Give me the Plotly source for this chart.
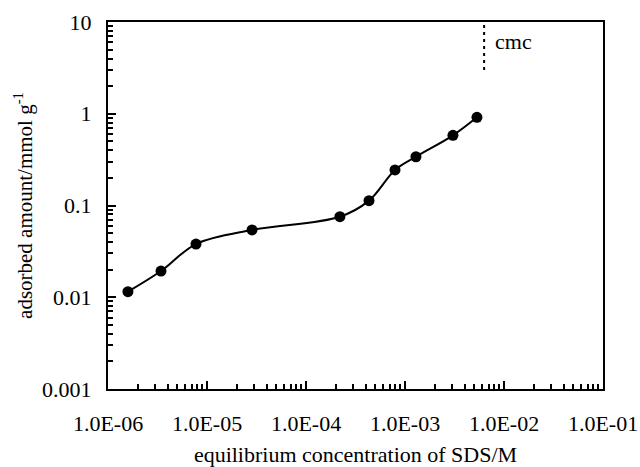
import math
import plotly.graph_objects as go

conc = [1.59e-6, 3.43e-6, 7.74e-6, 2.85e-5, 2.2e-4, 4.33e-4, 7.93e-4, 1.29e-3, 3.05e-3, 5.33e-3]
adsorbed = [0.0115, 0.0193, 0.038, 0.0541, 0.0755, 0.113, 0.244, 0.340, 0.582, 0.915]
cmc_x = [6.3e-3, 6.3e-3]
cmc_y = [3.0, 10.0]

x_ticks = [1e-6, 1e-5, 1e-4, 1e-3, 1e-2, 1e-1]
x_labels = ["1.0E-06", "1.0E-05", "1.0E-04", "1.0E-03", "1.0E-02", "1.0E-01"]
y_ticks = [0.001, 0.01, 0.1, 1, 10]
y_labels = ["0.001", "0.01", "0.1", "1", "10"]

font = "'Liberation Serif', 'Times New Roman', 'DejaVu Serif', serif"

fig = go.Figure()
fig.add_trace(go.Scatter(
    x=conc, y=adsorbed, mode="lines+markers",
    line=dict(color="black", width=2, shape="spline", smoothing=1),
    marker=dict(color="black", size=11),
    showlegend=False,
))
fig.add_trace(go.Scatter(
    x=cmc_x, y=cmc_y, mode="lines",
    line=dict(color="black", width=2, dash="3px,4px"),
    showlegend=False,
))
fig.add_annotation(x=math.log10(cmc_x[0]), y=math.log10(6.2), text="cmc",
                   showarrow=False, xanchor="left", xshift=9,
                   font=dict(family=font, size=22, color="black"))

fig.update_xaxes(
    type="log", range=[-6, -1], automargin=False,
    tickvals=x_ticks, ticktext=x_labels,
    ticks="inside", ticklen=8, tickwidth=1.5, tickcolor="black",
    minor=dict(ticks="inside", ticklen=5, tickwidth=1.5, tickcolor="black", dtick="D1", showgrid=False),
    showline=True, linecolor="black", linewidth=2, mirror=True,
    showgrid=False, zeroline=False,
    ticklabelstandoff=14,
    tickfont=dict(family=font, size=22, color="black"),
    title=dict(text="equilibrium concentration of SDS/M", standoff=11,
               font=dict(family=font, size=22, color="black")),
)
fig.update_yaxes(
    type="log", range=[-3, 1], automargin=False,
    tickvals=y_ticks, ticktext=y_labels,
    ticks="inside", ticklen=8, tickwidth=1.5, tickcolor="black",
    minor=dict(ticks="inside", ticklen=5, tickwidth=1.5, tickcolor="black", dtick="D1", showgrid=False),
    showline=True, linecolor="black", linewidth=2, mirror=True,
    showgrid=False, zeroline=False,
    ticklabelstandoff=10,
    tickfont=dict(family=font, size=22, color="black"),
    title=dict(text="adsorbed amount/mmol g<sup>-1</sup>", standoff=4,
               font=dict(family=font, size=21, color="black")),
)
fig.update_layout(
    width=640, height=467,
    margin=dict(l=108, r=37, t=22, b=78),
    paper_bgcolor="white", plot_bgcolor="white",
)
fig.write_html("out.html", config={"displayModeBar": False},
               post_script="document.body.style.margin='0';document.body.style.overflow='hidden';")
